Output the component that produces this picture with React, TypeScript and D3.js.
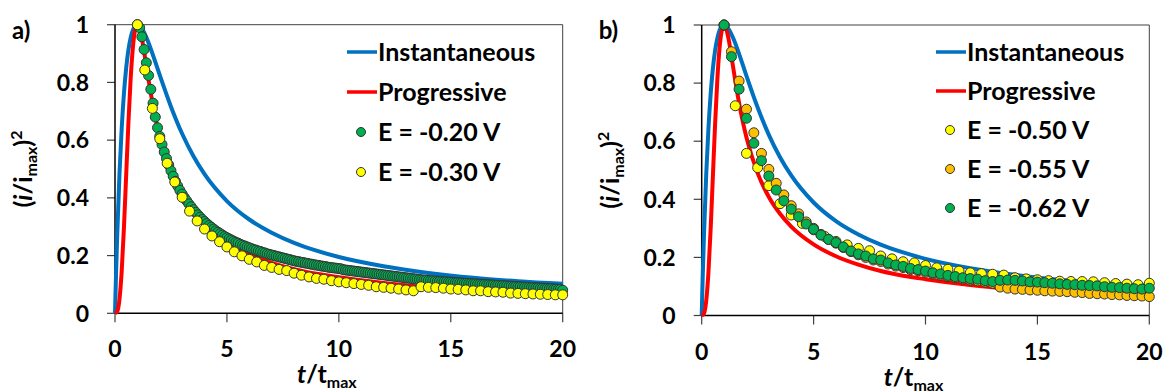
import * as d3 from 'd3';
import * as React from 'react';

// theoretical curves
const instT = [0, 0.025, 0.05, 0.1, 0.2, 0.3, 0.4, 0.5, 0.6, 0.7, 0.8, 0.9, 1, 1.2, 1.4, 1.6, 1.8, 2, 2.5, 3, 3.5, 4, 5, 6, 7, 8, 9, 10, 12, 14, 16, 18, 20];
const instV = [0, 0.075, 0.145, 0.272, 0.482, 0.642, 0.762, 0.85, 0.913, 0.955, 0.982, 0.996, 1, 0.987, 0.956, 0.916, 0.871, 0.825, 0.716, 0.622, 0.545, 0.482, 0.389, 0.325, 0.279, 0.244, 0.217, 0.195, 0.163, 0.14, 0.123, 0.111, 0.102];
const progT = [0, 0.1, 0.2, 0.3, 0.4, 0.5, 0.6, 0.7, 0.8, 0.9, 1, 1.1, 1.2, 1.4, 1.6, 1.8, 2, 2.5, 3, 3.5, 4, 5, 6, 7, 8, 9, 10, 12, 14, 16, 18, 20];
const progV = [0, 0.007, 0.049, 0.147, 0.298, 0.48, 0.661, 0.814, 0.922, 0.982, 1, 0.986, 0.952, 0.857, 0.762, 0.68, 0.613, 0.49, 0.408, 0.35, 0.306, 0.245, 0.204, 0.175, 0.153, 0.137, 0.125, 0.105, 0.09, 0.078, 0.069, 0.062];

// panel a) E = -0.20 V
const greenA = [
  [1.0, 1.0], [1.1, 0.99], [1.2, 0.958], [1.3, 0.914], [1.4, 0.868], [1.5, 0.824], [1.6, 0.776], [1.7, 0.728], [1.8, 0.68], [1.9, 0.643],
  [2.0, 0.613], [2.1, 0.585], [2.2, 0.559], [2.3, 0.536], [2.4, 0.514], [2.5, 0.494], [2.6, 0.475], [2.7, 0.457], [2.8, 0.441], [2.9, 0.426],
  [3.0, 0.413], [3.1, 0.401], [3.2, 0.39], [3.3, 0.379], [3.4, 0.369], [3.5, 0.359], [3.6, 0.35], [3.7, 0.341], [3.8, 0.333], [3.9, 0.325],
  [4.0, 0.318], [4.1, 0.311], [4.2, 0.304], [4.3, 0.298], [4.4, 0.292], [4.5, 0.286], [4.6, 0.281], [4.7, 0.276], [4.8, 0.271], [4.9, 0.266],
  [5.0, 0.262], [5.1, 0.258], [5.2, 0.254], [5.3, 0.25], [5.4, 0.246], [5.5, 0.243], [5.6, 0.239], [5.7, 0.236], [5.8, 0.233], [5.9, 0.23],
  [6.0, 0.227], [6.1, 0.224], [6.2, 0.221], [6.3, 0.219], [6.4, 0.216], [6.5, 0.214], [6.6, 0.211], [6.7, 0.209], [6.8, 0.206], [6.9, 0.204],
  [7.0, 0.202], [7.1, 0.2], [7.2, 0.198], [7.3, 0.196], [7.4, 0.194], [7.5, 0.192], [7.6, 0.19], [7.7, 0.188], [7.8, 0.186], [7.9, 0.184],
  [8.0, 0.182], [8.1, 0.18], [8.2, 0.179], [8.3, 0.177], [8.4, 0.176], [8.5, 0.174], [8.6, 0.173], [8.7, 0.171], [8.8, 0.17], [8.9, 0.168],
  [9.0, 0.167], [9.1, 0.166], [9.2, 0.164], [9.3, 0.163], [9.4, 0.162], [9.5, 0.16], [9.6, 0.159], [9.7, 0.158], [9.8, 0.157], [9.9, 0.156],
  [10.0, 0.155], [10.1, 0.154], [10.2, 0.151], [10.3, 0.15], [10.4, 0.149], [10.5, 0.148], [10.6, 0.147], [10.7, 0.146], [10.8, 0.145], [10.9, 0.144],
  [11.0, 0.143], [11.1, 0.142], [11.2, 0.141], [11.3, 0.14], [11.4, 0.139], [11.5, 0.138], [11.6, 0.137], [11.7, 0.136], [11.8, 0.135], [11.9, 0.134],
  [12.0, 0.133], [12.1, 0.132], [12.2, 0.131], [12.3, 0.13], [12.4, 0.129], [12.5, 0.128], [12.6, 0.127], [12.7, 0.126], [12.8, 0.125], [12.9, 0.124],
  [13.0, 0.123], [13.1, 0.122], [13.2, 0.121], [13.3, 0.12], [13.4, 0.119], [13.5, 0.118], [13.6, 0.117], [13.7, 0.116], [13.8, 0.115], [13.9, 0.115],
  [14.0, 0.114], [14.1, 0.113], [14.2, 0.113], [14.3, 0.112], [14.4, 0.111], [14.5, 0.111], [14.6, 0.11], [14.7, 0.109], [14.8, 0.109], [14.9, 0.108],
  [15.0, 0.108], [15.1, 0.107], [15.2, 0.106], [15.3, 0.106], [15.4, 0.105], [15.5, 0.105], [15.6, 0.104], [15.7, 0.104], [15.8, 0.103], [15.9, 0.103],
  [16.0, 0.102], [16.1, 0.102], [16.2, 0.101], [16.3, 0.101], [16.4, 0.1], [16.5, 0.1], [16.6, 0.099], [16.7, 0.099], [16.8, 0.098], [16.9, 0.098],
  [17.0, 0.097], [17.1, 0.097], [17.2, 0.096], [17.3, 0.096], [17.4, 0.095], [17.5, 0.095], [17.6, 0.094], [17.7, 0.094], [17.8, 0.093], [17.9, 0.093],
  [18.0, 0.092], [18.1, 0.092], [18.2, 0.091], [18.3, 0.091], [18.4, 0.09], [18.5, 0.09], [18.6, 0.089], [18.7, 0.089], [18.8, 0.088], [18.9, 0.088],
  [19.0, 0.087], [19.1, 0.087], [19.2, 0.086], [19.3, 0.086], [19.4, 0.085], [19.5, 0.085], [19.6, 0.084], [19.7, 0.084], [19.8, 0.083], [19.9, 0.083],
  [20.0, 0.08],
];

// panel a) E = -0.30 V
const yellowA = [
  [1, 1.0], [1.33, 0.843], [1.67, 0.71], [2, 0.605], [2.33, 0.52], [2.67, 0.455], [3, 0.402], [3.33, 0.354], [3.67, 0.32], [4, 0.292],
  [4.33, 0.268], [4.67, 0.248], [5, 0.23], [5.33, 0.213], [5.67, 0.199], [6, 0.187], [6.33, 0.178], [6.67, 0.166], [7, 0.159], [7.33, 0.152],
  [7.67, 0.148], [8, 0.139], [8.33, 0.132], [8.67, 0.126], [9, 0.121], [9.33, 0.118], [9.67, 0.113], [10, 0.109], [10.33, 0.106], [10.67, 0.103],
  [11, 0.1], [11.33, 0.097], [11.67, 0.092], [12, 0.09], [12.33, 0.087], [12.67, 0.084], [13, 0.081], [13.33, 0.078], [13.67, 0.092], [14, 0.09],
  [14.33, 0.089], [14.67, 0.087], [15, 0.084], [15.33, 0.083], [15.67, 0.081], [16, 0.078], [16.33, 0.078], [16.67, 0.075], [17, 0.074], [17.33, 0.073],
  [17.67, 0.07], [18, 0.069], [18.33, 0.068], [18.67, 0.067], [19, 0.066], [19.33, 0.065], [19.67, 0.064], [20, 0.064],
];

// panel b) E = -0.50 V
const yellowB = [
  [1, 1.0], [1.5, 0.722], [2, 0.558], [2.5, 0.509], [3, 0.447], [3.5, 0.385], [4, 0.346], [4.5, 0.317], [5, 0.295], [5.5, 0.272],
  [6, 0.255], [6.5, 0.243], [7, 0.231], [7.5, 0.223], [8, 0.205], [8.5, 0.195], [9, 0.185], [9.5, 0.181], [10, 0.172], [10.5, 0.164],
  [11, 0.159], [11.5, 0.153], [12, 0.147], [12.5, 0.144], [13, 0.142], [13.5, 0.139], [14, 0.13], [14.5, 0.126], [15, 0.123], [15.5, 0.12],
  [16, 0.118], [16.5, 0.117], [17, 0.117], [17.5, 0.116], [18, 0.113], [18.5, 0.11], [19, 0.108], [19.5, 0.106], [20, 0.111],
];

// panel b) E = -0.55 V
const orangeB = [
  [1, 1.0], [1.33, 0.908], [1.67, 0.807], [2, 0.71], [2.33, 0.629], [2.67, 0.558], [3, 0.503], [3.33, 0.455], [3.67, 0.415], [4, 0.378],
  [4.33, 0.35], [4.67, 0.322], [5, 0.3], [5.33, 0.279], [5.67, 0.262], [6, 0.249], [6.33, 0.234], [6.67, 0.22], [7, 0.209], [7.33, 0.2],
  [7.67, 0.191], [8, 0.186], [8.33, 0.177], [8.67, 0.17], [9, 0.165], [9.33, 0.158], [9.67, 0.154], [10, 0.149], [10.33, 0.143], [10.67, 0.139],
  [11, 0.134], [11.33, 0.13], [11.67, 0.126], [12, 0.122], [12.33, 0.119], [12.67, 0.115], [13, 0.111], [13.33, 0.098], [13.67, 0.094], [14, 0.091],
  [14.33, 0.09], [14.67, 0.088], [15, 0.087], [15.33, 0.085], [15.67, 0.084], [16, 0.083], [16.33, 0.082], [16.67, 0.08], [17, 0.079], [17.33, 0.076],
  [17.67, 0.075], [18, 0.074], [18.33, 0.072], [18.67, 0.071], [19, 0.069], [19.33, 0.068], [19.67, 0.067], [20, 0.065],
];

// panel b) E = -0.62 V
const greenB = [
  [1, 1.0], [1.33, 0.891], [1.67, 0.779], [2, 0.679], [2.33, 0.593], [2.67, 0.533], [3, 0.48], [3.33, 0.432], [3.67, 0.395], [4, 0.366],
  [4.33, 0.34], [4.67, 0.315], [5, 0.297], [5.33, 0.277], [5.67, 0.262], [6, 0.251], [6.33, 0.236], [6.67, 0.222], [7, 0.212], [7.33, 0.205],
  [7.67, 0.195], [8, 0.191], [8.33, 0.181], [8.67, 0.174], [9, 0.169], [9.33, 0.162], [9.67, 0.158], [10, 0.153], [10.33, 0.147], [10.67, 0.143],
  [11, 0.138], [11.33, 0.134], [11.67, 0.13], [12, 0.127], [12.33, 0.125], [12.67, 0.12], [13, 0.117], [13.33, 0.121], [13.67, 0.122], [14, 0.121],
  [14.33, 0.119], [14.67, 0.116], [15, 0.115], [15.33, 0.113], [15.67, 0.111], [16, 0.109], [16.33, 0.107], [16.67, 0.106], [17, 0.104], [17.33, 0.103],
  [17.67, 0.102], [18, 0.099], [18.33, 0.097], [18.67, 0.096], [19, 0.094], [19.33, 0.092], [19.67, 0.091], [20, 0.094],
];

const xTicks = [0, 5, 10, 15, 20];
const yTicks = [0, 0.2, 0.4, 0.6, 0.8, 1];
const yTickLabels = ['0', '0.2', '0.4', '0.6', '0.8', '1'];

const FONT = 'Lato, "Open Sans", sans-serif';
const BLUE = '#0070C0';
const RED = '#FF0000';

const Panel = (props) => {
  const { tag, x0, x1, yBottom, yTop, legendX, legendY, legendStep, scatter } = props;
  const x = d3.scaleLinear().domain([0, 20]).range([x0, x1]);
  const y = d3.scaleLinear().domain([0, 1]).range([yBottom, yTop]);

  const line = d3
    .line<number[]>()
    .x((d) => x(d[0]))
    .y((d) => y(d[1]))
    .curve(d3.curveMonotoneX);

  const inst = instT.map((t, i) => [t, instV[i]]);
  const prog = progT.map((t, i) => [t, progV[i]]);

  const legendRows = [
    { label: 'Instantaneous', kind: 'line', color: BLUE },
    { label: 'Progressive', kind: 'line', color: RED },
    ...scatter.map((s) => ({ label: s.label, kind: 'dot', color: s.color })),
  ];

  const midX = (x0 + x1) / 2;
  const midY = (yTop + yBottom) / 2;

  return (
    <g fontFamily={FONT} fontWeight="bold">
      <text x={x0 - 103} y={yTop + 14} fontSize="24">
        {tag}
      </text>

      {/* plot frame */}
      <line x1={x0} x2={x1} y1={yTop} y2={yTop} stroke="#404040" strokeWidth="1" />
      <line x1={x1} x2={x1} y1={yTop} y2={yBottom} stroke="#404040" strokeWidth="1" />

      {/* y axis */}
      {yTicks.map((v, i) => (
        <g key={'y' + i}>
          <line x1={x0 - 8} x2={x0} y1={y(v)} y2={y(v)} stroke="#404040" strokeWidth="1.2" />
          <text x={x0 - 26} y={y(v)} dy="0.36em" textAnchor="end" fontSize="23" fill="#000">
            {yTickLabels[i]}
          </text>
        </g>
      ))}
      {/* x axis */}
      {xTicks.map((t) => (
        <g key={'x' + t}>
          <line x1={x(t)} x2={x(t)} y1={yBottom} y2={yBottom + 9} stroke="#404040" strokeWidth="1.2" />
          <text x={x(t)} y={yBottom + 44} textAnchor="middle" fontSize="23" fill="#000">
            {t}
          </text>
        </g>
      ))}
      <line x1={x0} x2={x0} y1={yTop} y2={yBottom} stroke="#000" strokeWidth="1.5" />
      <line x1={x0} x2={x1} y1={yBottom} y2={yBottom} stroke="#000" strokeWidth="1.5" />

      {/* axis titles */}
      <text x={midX - 12} y={yBottom + 70} textAnchor="middle" fontSize="25">
        <tspan fontStyle="italic">t</tspan>
        <tspan>/t</tspan>
        <tspan fontSize="16" dy="5">max</tspan>
      </text>
      <text transform={`translate(${x0 - 83},${midY}) rotate(-90)`} textAnchor="middle" fontSize="25">
        <tspan>(</tspan>
        <tspan fontStyle="italic">i</tspan>
        <tspan>/i</tspan>
        <tspan fontSize="16" dy="5">max</tspan>
        <tspan dy="-5">)</tspan>
        <tspan fontSize="16" dy="-10">2</tspan>
      </text>

      {/* theory curves */}
      <path d={line(inst)} fill="none" stroke={BLUE} strokeWidth="4" />
      <path d={line(prog)} fill="none" stroke={RED} strokeWidth="4" />

      {/* experimental points */}
      {scatter.map((s) => (
        <g key={s.label}>
          {s.data.map((d, i) => (
            <circle key={i} cx={x(d[0])} cy={y(d[1])} r="5" fill={s.color} stroke="#333" strokeWidth="1" />
          ))}
        </g>
      ))}

      {/* legend */}
      {legendRows.map((r, i) => {
        const ly = legendY + i * legendStep;
        return (
          <g key={r.label}>
            {r.kind === 'line' ? (
              <line x1={legendX} x2={legendX + 30} y1={ly} y2={ly} stroke={r.color} strokeWidth="3.5" />
            ) : (
              <circle cx={legendX + 14} cy={ly} r="4.5" fill={r.color} stroke="#333" strokeWidth="1" />
            )}
            <text x={legendX + 31} y={ly} dy="0.36em" fontSize="25" fill="#000">
              {r.label}
            </text>
          </g>
        );
      })}
    </g>
  );
};

const App = () => {
  const scatterA = [
    { label: 'E = -0.20 V', color: '#00B050', data: greenA },
    { label: 'E = -0.30 V', color: '#FFFF00', data: yellowA },
  ];
  const scatterB = [
    { label: 'E = -0.50 V', color: '#FFFF00', data: yellowB },
    { label: 'E = -0.55 V', color: '#FFC000', data: orangeB },
    { label: 'E = -0.62 V', color: '#00B050', data: greenB },
  ];

  return (
    <svg width="1164" height="392" style={{ position: 'absolute', left: 0, top: 0, background: '#fff' }}>
      <rect width="1164" height="392" fill="#fff" />
      <Panel tag="a)" x0={115} x1={562.7} yBottom={313.3} yTop={24.7} legendX={347} legendY={52} legendStep={40} scatter={scatterA} />
      <Panel tag="b)" x0={701.7} x1={1149.3} yBottom={315.5} yTop={25} legendX={936} legendY={52} legendStep={39} scatter={scatterB} />
    </svg>
  );
};

export default App;
